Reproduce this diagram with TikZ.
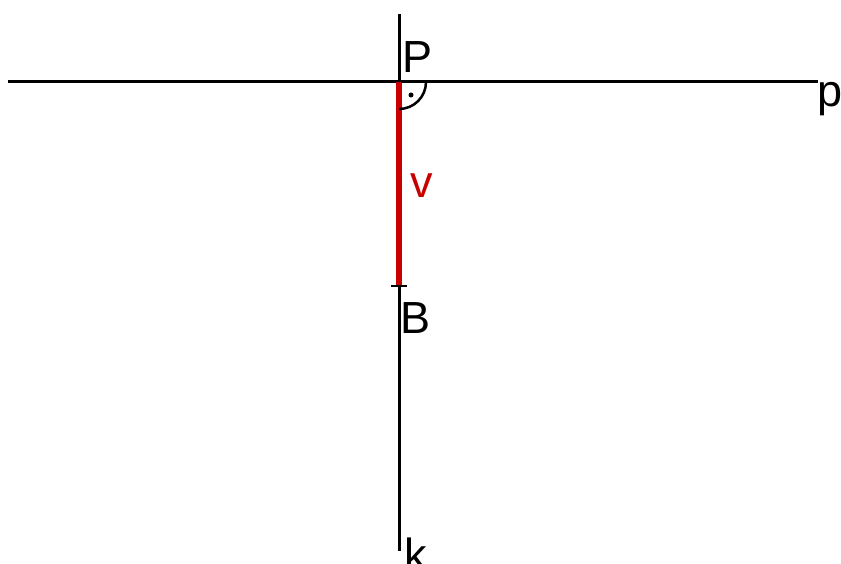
\documentclass[tikz,border=0pt]{standalone}
\usepackage{fontspec}
\setmainfont{Liberation Sans}
\begin{document}
\begin{tikzpicture}[x=1pt,y=-1pt,
  lbl/.style={inner sep=0pt,anchor=base west,font=\fontsize{45}{50}\selectfont},
  blk/.style={line width=3pt,black},
  red/.style={line width=5.5pt,color={rgb,255:red,200;green,0;blue,0}}]
\useasboundingbox (0,0) rectangle (841,564);
\coordinate (pl) at (8,82);
\coordinate (pr) at (818,82);
\coordinate (kt) at (399,14);
\coordinate (kb) at (399,551);
\coordinate (P) at (399,82);
\coordinate (B) at (399,286);
\draw[blk] (pl) -- (pr);
\draw[blk] (kt) -- (kb);
\draw[red] (P) -- (B);
\draw[line width=2.5pt] ([xshift=-8]B) -- ([xshift=8]B);
\draw[line width=2.5pt] ([xshift=27]P) arc[start angle=0,end angle=90,radius=27];
\fill (411,95) circle[radius=2.5pt];
\node[lbl] (lP) at (402,73) {P};
\node[lbl] (lB) at (400,333) {B};
\node[lbl,text={rgb,255:red,200;green,0;blue,0}] (lv) at (410,198) {v};
\node[lbl] (lp) at (817,107) {p};
\node[lbl] (lk) at (404,570) {k};
\end{tikzpicture}
\end{document}
